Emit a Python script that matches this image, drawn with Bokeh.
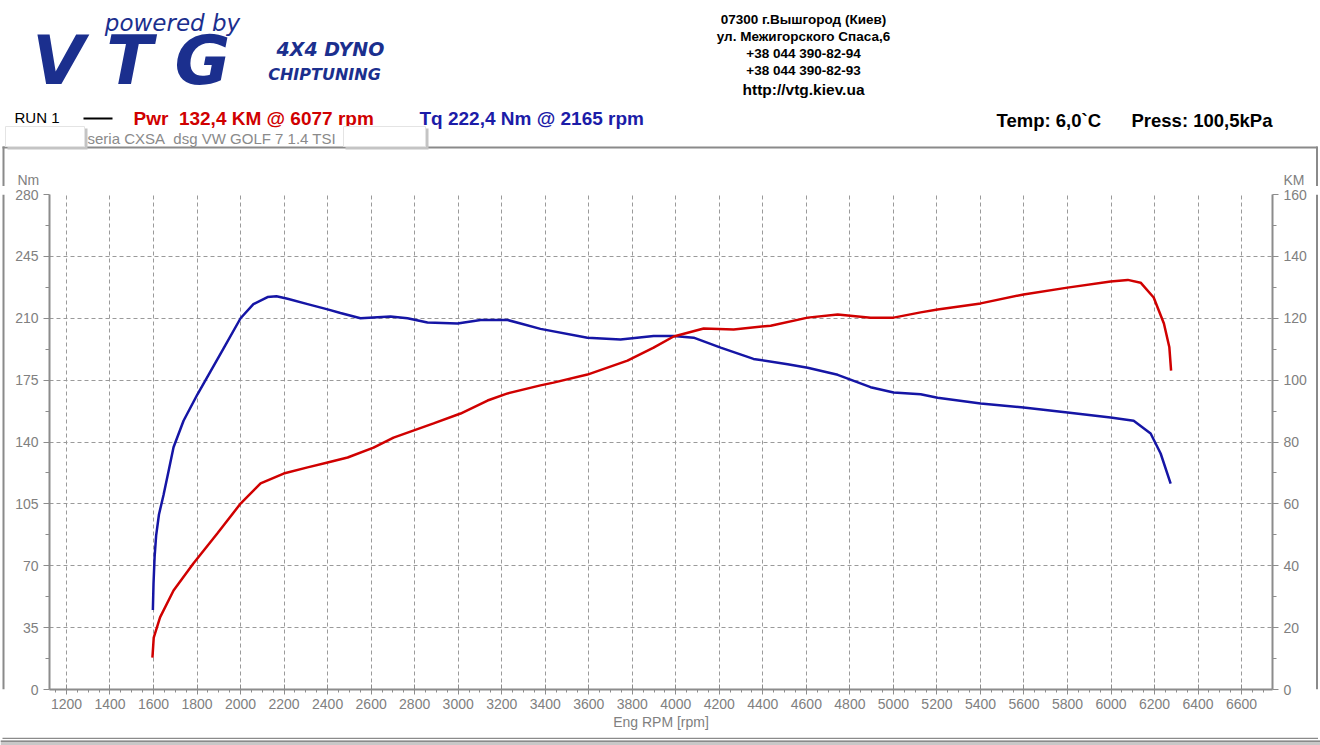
from bokeh.plotting import figure
from bokeh.layouts import column, row
from bokeh.models import Range1d, LinearAxis, FixedTicker
from bokeh.core.properties import value
from bokeh.embed import file_html
from bokeh.resources import INLINE

# ---------------- data (read from the dyno sheet) ----------------
rpm_tq = [1597, 1600, 1605, 1612, 1625, 1646, 1670, 1692, 1738, 1802, 1862, 1922,
          2000, 2059, 2124, 2165, 2216, 2308, 2400, 2459, 2551, 2689, 2767, 2859,
          2997, 3103, 3227, 3287, 3378, 3594, 3746, 3898, 3990, 4082, 4206, 4357,
          4514, 4606, 4744, 4895, 5001, 5125, 5203, 5401, 5598, 5800, 5998, 6104,
          6182, 6228, 6274]
torque_nm = [45, 60, 75, 87, 99, 110, 124, 137, 152, 167, 180, 193,
             210, 218, 222, 222.4, 221, 218, 215, 213, 210, 211, 210, 207.6,
             207, 209, 209, 207, 204, 199, 198, 200, 200, 199, 193.4, 187,
             184, 182, 178, 171, 168, 167, 165, 161.8, 159.5, 156.7, 153.8, 152,
             144.8, 133.5, 116.5]

rpm_pwr = [1595, 1601, 1630, 1692, 1783, 1893, 2000, 2092, 2198, 2308, 2400, 2492,
           2611, 2703, 2887, 3011, 3135, 3227, 3378, 3438, 3594, 3778, 3898, 3990,
           4128, 4266, 4436, 4606, 4744, 4895, 5001, 5125, 5203, 5401, 5598, 5800,
           5998, 6077, 6136, 6196, 6243, 6268, 6276]
power_km = [10.3, 16.8, 23.3, 32, 40.7, 50.4, 60.1, 66.6, 69.8, 71.8, 73.4, 75,
            78.2, 81.4, 86, 89.2, 93.4, 95.7, 98.3, 99.2, 101.8, 106.3, 110.5, 114.1,
            116.7, 116.4, 117.6, 120.2, 121.2, 120.2, 120.2, 121.9, 122.8, 124.8, 127.7, 129.9,
            131.9, 132.4, 131.5, 126.7, 118.3, 110.6, 103.1]

x_ticks = list(range(1200, 6601, 200))
x_minor = list(range(1150, 6701, 50))
nm_ticks = [0, 35, 70, 105, 140, 175, 210, 245, 280]
nm_minor = [17.5, 52.5, 87.5, 122.5, 157.5, 192.5, 227.5, 262.5]
km_ticks = [0, 20, 40, 60, 80, 100, 120, 140, 160]
km_minor = [10, 30, 50, 70, 90, 110, 130, 150]

NB = "\u00a0"
header_run = "RUN 1"
header_pwr = "Pwr" + NB + " 132,4 KM @ 6077 rpm"
header_tq = "Tq 222,4 Nm @ 2165 rpm"
header_temp = "Temp: 6,0`C"
header_press = "Press: 100,5kPa"
car_text = "seria CXSA" + NB + " dsg VW GOLF 7 1.4 TSI"
address = ["07300 г.Вышгород (Киев)", "ул. Межигорского Спаса,6",
           "+38 044 390-82-94", "+38 044 390-82-93", "http://vtg.kiev.ua"]

# ---------------- layout constants ----------------
W, H = 1320, 745
HDR_H = 186          # header strip height
FOOT_H = 10          # footer strip height
SIDE = 5             # side strips width
FL, FR, FT, FB = 49, 1272, 194, 689   # chart frame in page pixels
AX = "#8c8c8c"
TXT = "#808080"
GRID = "#9a9a9a"
BORDER = "#8a8a8a"
LOGO = "#1b2f8e"
FONT = "Liberation Sans"


def blank(w, h, xr, yr):
    f = figure(width=w, height=h, x_range=xr, y_range=yr, min_border=0,
               x_axis_type=None, y_axis_type=None,
               output_backend="svg", toolbar_location=None)
    f.outline_line_color = None
    f.background_fill_color = "white"
    f.border_fill_color = "white"
    return f


# ---------------- header ----------------
hdr = blank(W, HDR_H, Range1d(0, W), Range1d(HDR_H, 0))


def T(x, y, text, size, color="black", style="normal", align="left", font=FONT):
    hdr.text(x=[x], y=[y], text=[text], text_font=value(font),
             text_font_size=value(f"{size}px"), text_color=color,
             text_font_style=style, text_align=align, text_baseline="middle")


# logo
T(172, 22, "powered by", 23, LOGO, "italic", "center", "DejaVu Sans")
T(58, 60, "V", 68, LOGO, "bold italic", "center", "DejaVu Sans")
T(129, 60, "T", 68, LOGO, "bold italic", "center", "DejaVu Sans")
T(202, 60, "G", 68, LOGO, "bold italic", "center", "DejaVu Sans")
T(330, 48, "4X4 DYNO", 19, LOGO, "bold italic", "center", "DejaVu Sans")
T(324, 74, "CHIPTUNING", 16, LOGO, "bold italic", "center", "DejaVu Sans")

# address
ay = [19, 36, 53, 70, 89]
for i, t in enumerate(address):
    T(803, ay[i], t, 15.5 if i == 4 else 13.5, "black", "bold", "center")

# run line
T(14, 117, header_run, 15, "black")
hdr.quad(left=[83], right=[112], top=[117], bottom=[119], color="black", line_color=None)
T(133, 118, header_pwr, 19, "#d00000", "bold")
T(419, 118, header_tq, 19, "#1c1ca8", "bold")
T(996, 120, header_temp, 18.5, "black", "bold")
T(1131, 120, header_press, 18.5, "black", "bold")

# outer frame (top part)
hdr.quad(left=[2], right=[1317], top=[146], bottom=[148], color=BORDER, line_color=None)
hdr.quad(left=[2], right=[4], top=[146], bottom=[HDR_H], color=BORDER, line_color=None)
hdr.quad(left=[1315.5], right=[1317.5], top=[146], bottom=[HDR_H], color=BORDER, line_color=None)

# car text and redaction boxes
T(87, 138, car_text, 15, "#8a8a8a")
hdr.quad(left=[7, 345], right=[87, 428], top=[128, 128], bottom=[149, 149],
         color="#c4c4c4", line_color=None)
hdr.quad(left=[5, 343], right=[84, 425], top=[126, 126], bottom=[146, 146],
         fill_color="white", line_color="#e4e4e4", line_width=1)

# axis unit labels
T(17, 179, "Nm", 14, TXT)
T(1283, 179, "KM", 14, TXT)

# ---------------- chart ----------------
CH_H = H - HDR_H - FOOT_H
CW = W - 2 * SIDE
p = figure(width=CW, height=CH_H, x_range=Range1d(1122, 6742), y_range=Range1d(0, 280),
           output_backend="svg", toolbar_location=None,
           min_border_left=FL - SIDE, min_border_right=(W - SIDE) - FR,
           min_border_top=FT - HDR_H, min_border_bottom=(H - FOOT_H) - FB)
p.outline_line_color = None
p.background_fill_color = "white"
p.border_fill_color = "white"
p.extra_y_ranges = {"km": Range1d(0, 160)}

xa = p.xaxis[0]
xa.ticker = FixedTicker(ticks=x_ticks, minor_ticks=x_minor)
xa.axis_label = "Eng RPM [rpm]"
ya = p.yaxis[0]
ya.ticker = FixedTicker(ticks=nm_ticks, minor_ticks=nm_minor)
yr = LinearAxis(y_range_name="km", ticker=FixedTicker(ticks=km_ticks, minor_ticks=km_minor))
p.add_layout(yr, "right")

for ax in (xa, ya, yr):
    ax.axis_line_color = AX
    ax.axis_line_width = 2
    ax.major_tick_line_color = AX
    ax.minor_tick_line_color = AX
    ax.major_label_text_color = TXT
    ax.major_label_text_font = FONT
    ax.major_label_text_font_size = "14px"
    ax.axis_label_text_color = TXT
    ax.axis_label_text_font = FONT
    ax.axis_label_text_font_size = "14px"
    ax.axis_label_text_font_style = "normal"

xa.major_tick_in = 5
xa.major_tick_out = 5
xa.minor_tick_in = 0
xa.minor_tick_out = 3
xa.major_label_standoff = 4
xa.axis_label_standoff = 2
for ax in (ya, yr):
    ax.major_tick_in = 0
    ax.major_tick_out = 6
    ax.minor_tick_in = 0
    ax.minor_tick_out = 4
    ax.major_label_standoff = 5

p.xgrid.grid_line_color = GRID
p.xgrid.grid_line_dash = "4 3"
p.ygrid.grid_line_color = GRID
p.ygrid.grid_line_dash = "4 3"

p.line(rpm_tq, torque_nm, line_color="#1515a5", line_width=2.5)
p.line(rpm_pwr, power_km, line_color="#d00000", line_width=2.5, y_range_name="km")

# ---------------- side strips ----------------
left_strip = blank(SIDE, CH_H, Range1d(0, SIDE), Range1d(0, CH_H))
left_strip.quad(left=[2], right=[4], bottom=[0], top=[CH_H], color=BORDER, line_color=None)
right_strip = blank(SIDE, CH_H, Range1d(W - SIDE, W), Range1d(0, CH_H))
right_strip.quad(left=[1315.5], right=[1317.5], bottom=[0], top=[CH_H], color=BORDER, line_color=None)

# ---------------- footer ----------------
foot = blank(W, FOOT_H, Range1d(0, W), Range1d(H, H - FOOT_H))
foot.quad(left=[2], right=[1317.5], top=[735], bottom=[736.5], color=BORDER, line_color=None)
foot.quad(left=[0], right=[W], top=[738], bottom=[744], color="#c8c8c8", line_color=None)
foot.quad(left=[0, 0], right=[W, W], top=[738, 742.5], bottom=[739.5, 744],
          color="#8a8a8a", line_color=None)

layout = column(hdr, row(left_strip, p, right_strip, spacing=0), foot, spacing=0)

open("out.html", "w").write(file_html(layout, INLINE))
